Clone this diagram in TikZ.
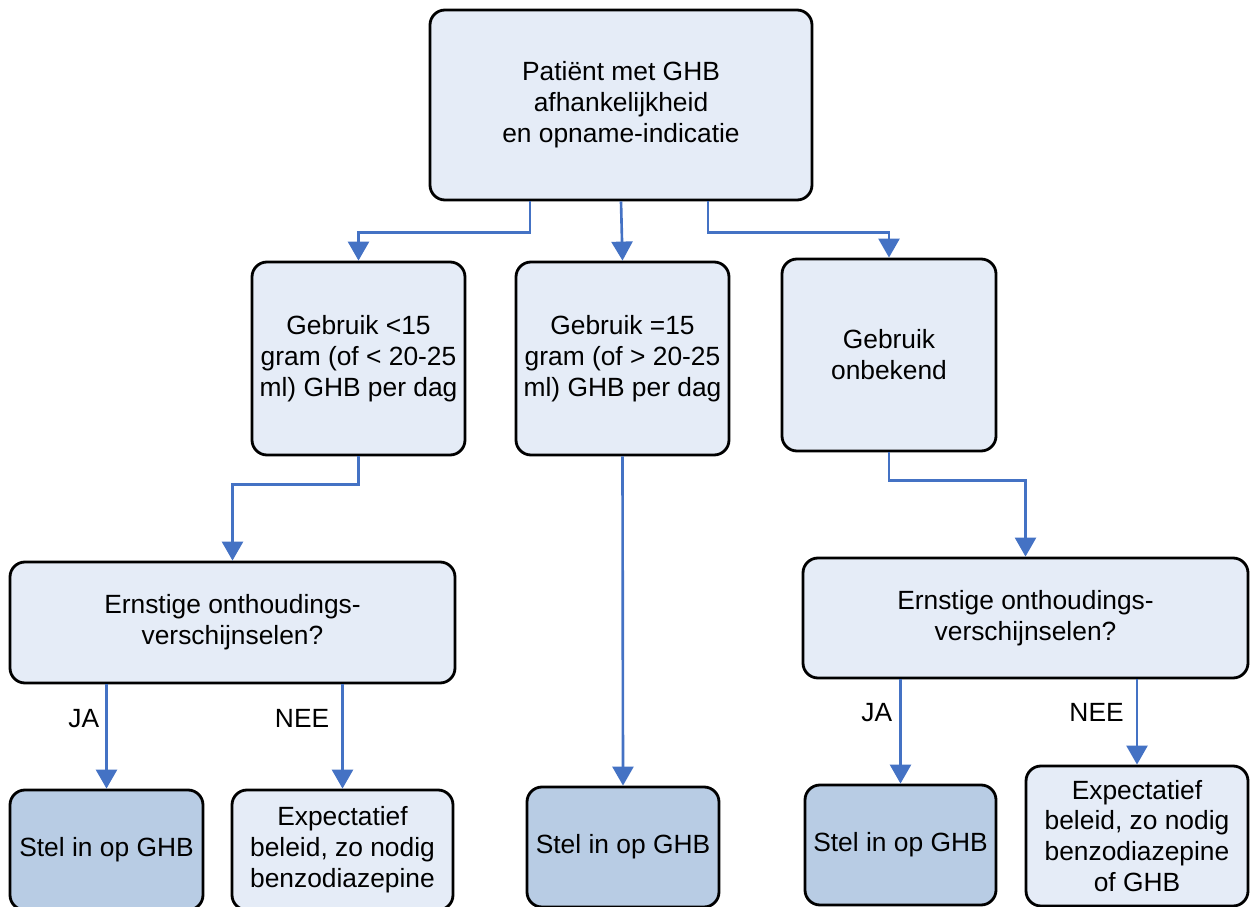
\documentclass[tikz,border=0pt]{standalone}
\usepackage{fontspec}
\setmainfont{Liberation Sans}
\usepackage{xcolor}
\definecolor{boxLight}{HTML}{E5ECF7}
\definecolor{boxDark}{HTML}{B8CCE4}
\definecolor{flowBlue}{HTML}{4472C4}
\usepackage{tikz}
\usetikzlibrary{positioning,arrows.meta}

\begin{document}
\begin{tikzpicture}[
    every node/.style={font=\fontsize{15pt}{17.6pt}\selectfont},
    box/.style={draw=black, line width=1.6pt, rounded corners=0.3cm,
                fill=boxLight, align=center, inner sep=2pt},
    keuze/.style={box, fill=boxDark},
    arr/.style={-{Triangle[length=3.8mm, width=4.2mm]}, draw=flowBlue, line width=1.5pt},
    lbl/.style={left, inner sep=0pt}]
  \useasboundingbox (0,0) rectangle (25,-18.14);
  \clip (0,0) rectangle (25,-18.14);
  % bovenste rij
  \node[box, minimum width=7.64cm, minimum height=3.80cm] (top) at (12.42,-2.10)
       {Patiënt met GHB\\afhankelijkheid\\en opname-indicatie};
  % gebruik
  \node[box, minimum width=4.26cm, minimum height=3.86cm] (lt15) at (7.17,-7.17)
       {Gebruik <15\\gram (of < 20-25\\ml) GHB per dag};
  \node[box, minimum width=4.26cm, minimum height=3.86cm] (ge15) at (12.45,-7.17)
       {Gebruik =15\\gram (of > 20-25\\ml) GHB per dag};
  \node[box, minimum width=4.28cm, minimum height=3.84cm] (onb) at (17.78,-7.10)
       {Gebruik\\onbekend};
  % onthoudingsverschijnselen
  \node[box, minimum width=8.90cm, minimum height=2.42cm] (ernL) at (4.65,-12.45)
       {Ernstige onthoudings-\\verschijnselen?};
  \node[box, minimum width=8.90cm, minimum height=2.40cm] (ernR) at (20.51,-12.36)
       {Ernstige onthoudings-\\verschijnselen?};
  % beleid
  \node[keuze, minimum width=3.86cm, minimum height=2.40cm] (stelL) at (2.13,-17.00)
       {Stel in op GHB};
  \node[box, minimum width=4.42cm, minimum height=2.40cm] (expL) at (6.85,-17.00)
       {Expectatief\\beleid, zo nodig\\benzodiazepine};
  \node[keuze, minimum width=3.84cm, minimum height=2.40cm] (stelM) at (12.46,-16.94)
       {Stel in op GHB};
  \node[keuze, minimum width=3.82cm, minimum height=2.40cm] (stelR) at (18.01,-16.90)
       {Stel in op GHB};
  \node[box, minimum width=4.44cm, minimum height=2.80cm] (expR) at (22.74,-16.72)
       {Expectatief\\beleid, zo nodig\\benzodiazepine\\of GHB};
  % pijlen
  \draw[arr] ([xshift=-1.82cm]top.south) -- ++(0,-0.62) -| (lt15.north);
  \draw[arr] (top.south) -- (ge15.north);
  \draw[arr] ([xshift=1.74cm]top.south) -- ++(0,-0.62) -| (onb.north);
  \draw[arr] (lt15.south) -- ++(0,-0.56) -| (ernL.north);
  \draw[arr] (ge15.south) -- (stelM.north);
  \draw[arr] (onb.south) -- ++(0,-0.56) -| (ernR.north);
  \draw[arr] (stelL.north |- ernL.south) -- (stelL.north)
       node[lbl, pos=0.33, xshift=-0.12cm] {JA};
  \draw[arr] (expL.north |- ernL.south) -- (expL.north)
       node[lbl, pos=0.33, xshift=-0.24cm] {NEE};
  \draw[arr] (stelR.north |- ernR.south) -- (stelR.north)
       node[lbl, pos=0.32, xshift=-0.14cm] {JA};
  \draw[arr] (expR.north |- ernR.south) -- (expR.north)
       node[lbl, pos=0.39, xshift=-0.24cm] {NEE};
\end{tikzpicture}
\end{document}
